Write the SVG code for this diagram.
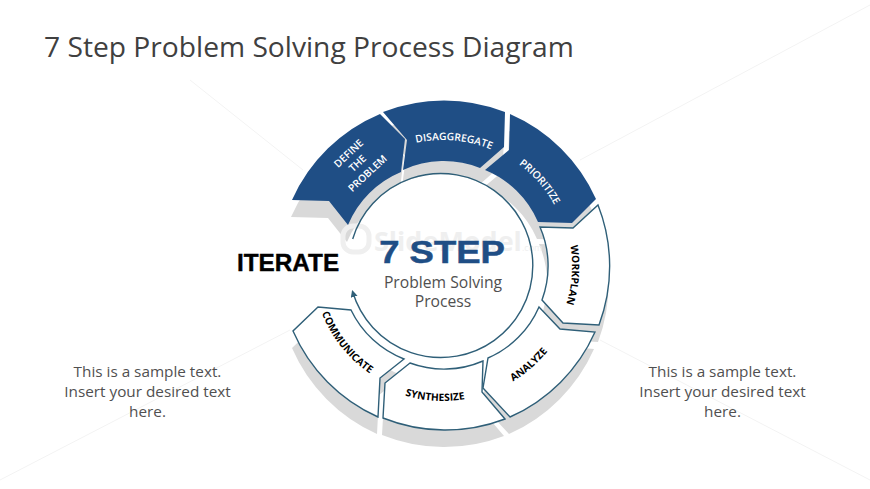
<svg xmlns="http://www.w3.org/2000/svg" xmlns:xlink="http://www.w3.org/1999/xlink" width="870" height="489" viewBox="0 0 870 489">
<style>
text{font-family:"Open Sans","Liberation Sans",sans-serif}
.title{font-size:28.200px;fill:#404040}
.body{font-size:15.300px;fill:#505050;text-anchor:middle}
.lw{font-size:10.300px;font-weight:600;fill:#fff;text-anchor:middle}
.lk{font-size:10.200px;font-weight:700;fill:#000;text-anchor:middle}
.blue{fill:#1f4e85}
.white{fill:#fff;stroke:#2f5f78;stroke-width:1.4}
.ring{fill:none;stroke:#2f5f78;stroke-width:1.4}
.bg{stroke:#f3f3f3;stroke-width:1;fill:none}
</style>
<defs>
<marker id="ah" markerWidth="9" markerHeight="9" refX="5" refY="3.500" orient="auto" markerUnits="userSpaceOnUse"><path d="M0 0L7 3.500L0 7Z" fill="#2f5f78"/></marker>
<path id="s1" d="M292 200A167 167 0 0 1 380 114L405 139L401 172A98 98 0 0 0 348 225L329 201Z"/>
<path id="s2" d="M383 112A167 167 0 0 1 505 112L504 147L480 168A98 98 0 0 0 403 170L407 140Z"/>
<path id="s3" d="M510 114A167 167 0 0 1 596 199L572 223L538 222A98 98 0 0 0 485 170L509 150Z"/>
<path id="s4" d="M598 205A167 167 0 0 1 599 325L563 323L542 300A98 98 0 0 0 540 227L573 228Z"/>
<path id="s5" d="M595 332A167 167 0 0 1 510 417L483 388L488 358A98 98 0 0 0 539 307L560 329Z"/>
<path id="s6" d="M505 419A167 167 0 0 1 383 418L385 383L410 363A98 98 0 0 0 483 361L482 392Z"/>
<path id="s7" d="M378 417A167 167 0 0 1 293 331L318 307L351 310A98 98 0 0 0 404 359L380 378Z"/>
<path id="t2" d="M389.800 151.800A126 126 0 0 1 515.300 162.800"/>
<path id="t3" d="M484.300 146A127 127 0 0 1 567.700 241.800"/>
<path id="t4" d="M559 209.400A129 129 0 0 1 550 338.100"/>
<path id="t5" d="M480.200 395.800A135 135 0 0 0 566.300 320.900"/>
<path id="t6" d="M368.500 378.600A135 135 0 0 0 503.200 386.800"/>
<path id="t7" d="M313 266A130 130 0 0 0 422.700 394.400"/>
</defs>
<rect width="870" height="489" fill="#fff"/>
<g id="background">
<path class="bg" d="M190 80L303 170M580 160L870 5M600 340L870 480M0 480L290 330"/>
</g>
<text id="title" class="title" x="44" y="57">7 Step Problem Solving Process Diagram</text>
<g id="shadows" fill="#d9d9d9" transform="translate(-1 17)">
<use xlink:href="#s1"/><use xlink:href="#s2"/><use xlink:href="#s3"/><use xlink:href="#s4"/><use xlink:href="#s5"/><use xlink:href="#s6"/><use xlink:href="#s7"/>
</g>
<circle cx="441" cy="266" r="92" fill="#fff"/>
<g id="watermark" fill="#efefef">
<rect x="343" y="226" width="26" height="26" rx="10" fill="none" stroke="#efefef" stroke-width="5"/>
<text x="374" y="251" font-size="27" font-weight="700">SlideModel</text>
<text x="522" y="251" font-size="9">.com</text>
</g>
<g id="connectors">
<path class="ring" d="M352.700 239A92 92 0 1 1 352.700 292" marker-end="url(#ah)"/>
</g>
<g id="node-define"><use xlink:href="#s1" class="blue"/>
<text class="lw" transform="translate(351 156) rotate(-43)">DEFINE</text>
<text class="lw" transform="translate(360 166) rotate(-43)">THE</text>
<text class="lw" transform="translate(370 176) rotate(-43)">PROBLEM</text></g>
<g id="node-disaggregate"><use xlink:href="#s2" class="blue"/><text class="lw"><textPath xlink:href="#t2" startOffset="50%">DISAGGREGATE</textPath></text></g>
<g id="node-prioritize"><use xlink:href="#s3" class="blue"/><text class="lw"><textPath xlink:href="#t3" startOffset="50%">PRIORITIZE</textPath></text></g>
<g id="node-workplan"><use xlink:href="#s4" class="white"/><text class="lk"><textPath xlink:href="#t4" startOffset="50%">WORKPLAN</textPath></text></g>
<g id="node-analyze"><use xlink:href="#s5" class="white"/><text class="lk"><textPath xlink:href="#t5" startOffset="50%">ANALYZE</textPath></text></g>
<g id="node-synthesize"><use xlink:href="#s6" class="white"/><text class="lk"><textPath xlink:href="#t6" startOffset="50%">SYNTHESIZE</textPath></text></g>
<g id="node-communicate"><use xlink:href="#s7" class="white"/><text class="lk"><textPath xlink:href="#t7" startOffset="47.500%">COMMUNICATE</textPath></text></g>
<g id="center">
<text transform="translate(442 263) scale(1.14 1)" text-anchor="middle" stroke="#1f4e85" stroke-width="0.5" style="font-family:'Liberation Sans',sans-serif;font-weight:700;font-size:32px" fill="#1f4e85">7 STEP</text>
<text class="body" x="443" y="288" style="font-size:15.700px">Problem Solving</text>
<text class="body" x="443" y="307" style="font-size:15.700px">Process</text>
</g>
<text id="iterate" x="237" y="271" stroke="#000" stroke-width="0.4" style="font-family:'Liberation Sans',sans-serif;font-weight:700;font-size:24.300px" fill="#000">ITERATE</text>
<g id="text-left"><text class="body" x="147.500" y="377">This is a sample text.</text><text class="body" x="147.500" y="397">Insert your desired text</text><text class="body" x="147.500" y="417">here.</text></g>
<g id="text-right"><text class="body" x="722.500" y="377">This is a sample text.</text><text class="body" x="722.500" y="397">Insert your desired text</text><text class="body" x="722.500" y="417">here.</text></g>
</svg>
